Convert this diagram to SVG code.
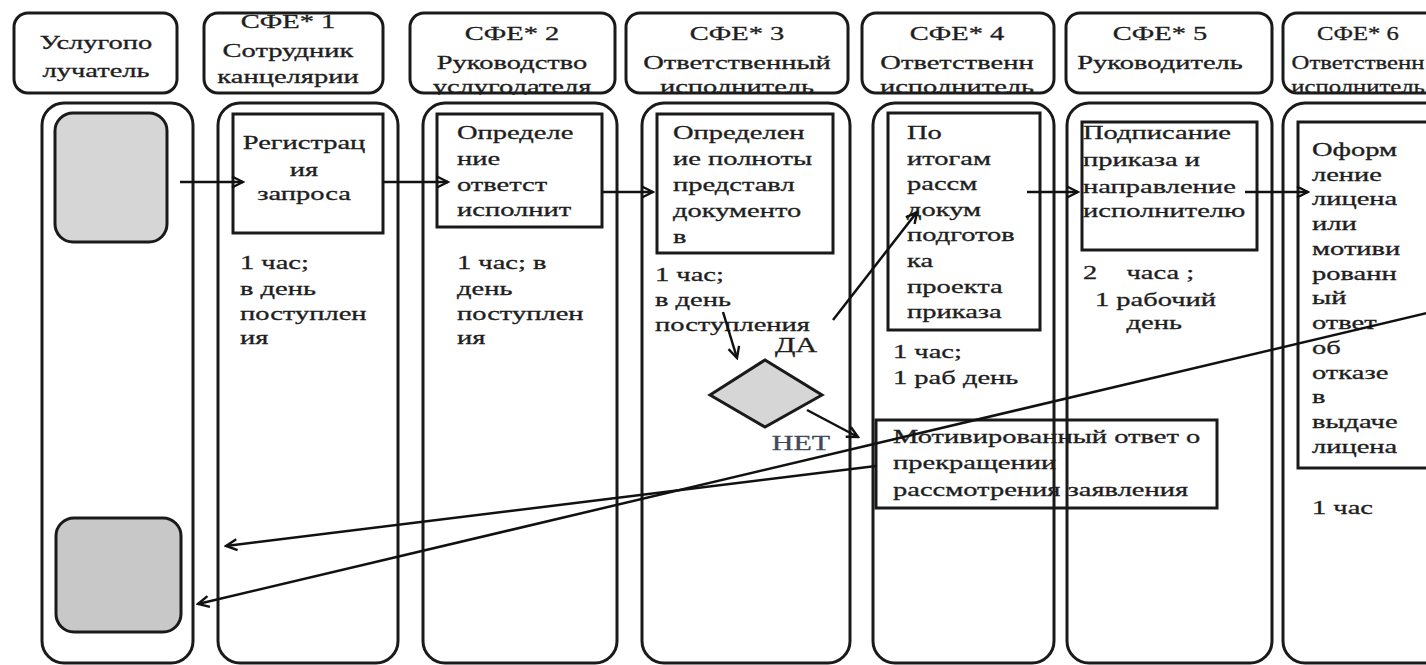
<svg xmlns="http://www.w3.org/2000/svg" width="1426" height="665" viewBox="0 0 1426 665">
<style>
.lane{fill:none;stroke:#1a1a1a;stroke-width:3}
.hdr{fill:#fff;stroke:#1a1a1a;stroke-width:3}
.box{fill:none;stroke:#1a1a1a;stroke-width:3}
.t{font-family:"Liberation Serif","DejaVu Serif",serif;font-size:19px;fill:#1e1e1e;stroke:#1e1e1e;stroke-width:0.3}
.ht{clip-path:url(#hclip)}
.c{stroke:#111;stroke-width:2.5;fill:none;marker-end:url(#ah)}
</style>
<defs>
<marker id="ah" viewBox="0 0 14 14" refX="12" refY="7" markerWidth="14" markerHeight="14" markerUnits="userSpaceOnUse" orient="auto">
<path d="M1,1.5 L12,7 L1,12.5" fill="none" stroke="#111" stroke-width="2.4"/>
</marker>
<clipPath id="hclip" clipPathUnits="userSpaceOnUse"><rect x="0" y="0" width="1426" height="95"/></clipPath>
</defs>
<rect width="1426" height="665" fill="#fff"/>

<g id="lanes">
<rect id="lane0" class="lane" x="42" y="103" width="151" height="560" rx="22"/>
<rect id="lane1" class="lane" x="218" y="103" width="180" height="560" rx="22"/>
<rect id="lane2" class="lane" x="423" y="103" width="194" height="560" rx="22"/>
<rect id="lane3" class="lane" x="642" y="103" width="208" height="560" rx="22"/>
<rect id="lane4" class="lane" x="873" y="103" width="181" height="560" rx="22"/>
<rect id="lane5" class="lane" x="1067" y="103" width="205" height="560" rx="22"/>
<rect id="lane6" class="lane" x="1283" y="103" width="220" height="560" rx="22"/>
</g>

<g id="h0"><rect class="hdr" x="14" y="13" width="163" height="80" rx="14"/>
<g class="ht"><text class="t" text-anchor="middle" transform="matrix(1.5 0 0 1 96 49)"><tspan x="0" y="0">Услугопо</tspan><tspan x="0" y="28">лучатель</tspan></text></g></g>
<g id="h1"><rect class="hdr" x="204" y="13" width="179" height="80" rx="14"/>
<g class="ht"><text class="t" text-anchor="middle" transform="matrix(1.5 0 0 1 288 28)"><tspan x="0" y="0">СФЕ* 1</tspan><tspan x="0" y="29">Сотрудник</tspan><tspan x="0" y="55">канцелярии</tspan></text></g></g>
<g id="h2"><rect class="hdr" x="410" y="13" width="205" height="80" rx="14"/>
<g class="ht"><text class="t" text-anchor="middle" transform="matrix(1.5 0 0 1 512 40)"><tspan x="0" y="0">СФЕ* 2</tspan><tspan x="0" y="29">Руководство</tspan><tspan x="0" y="53">услугодателя</tspan></text></g></g>
<g id="h3"><rect class="hdr" x="626" y="13" width="222" height="80" rx="14"/>
<g class="ht"><text class="t" text-anchor="middle" transform="matrix(1.5 0 0 1 737 40)"><tspan x="0" y="0">СФЕ* 3</tspan><tspan x="0" y="29">Ответственный</tspan><tspan x="0" y="53">исполнитель</tspan></text></g></g>
<g id="h4"><rect class="hdr" x="862" y="13" width="192" height="80" rx="14"/>
<g class="ht"><text class="t" text-anchor="middle" transform="matrix(1.5 0 0 1 957 40)"><tspan x="0" y="0">СФЕ* 4</tspan><tspan x="0" y="29">Ответственн</tspan><tspan x="0" y="53">исполнитель</tspan></text></g></g>
<g id="h5"><rect class="hdr" x="1066" y="13" width="206" height="80" rx="14"/>
<g class="ht"><text class="t" text-anchor="middle" transform="matrix(1.5 0 0 1 1160 40)"><tspan x="0" y="0">СФЕ* 5</tspan><tspan x="0" y="29">Руководитель</tspan></text></g></g>
<g id="h6"><rect class="hdr" x="1283" y="13" width="220" height="80" rx="14"/>
<g class="ht"><text class="t" text-anchor="middle" transform="matrix(1.3 0 0 1 1358 40)"><tspan x="0" y="0">СФЕ* 6</tspan><tspan x="0" y="29">Ответственн</tspan><tspan x="0" y="53">исполнитель</tspan></text></g></g>

<g id="start"><rect x="55" y="113" width="112" height="129" rx="18" fill="#d6d6d6" stroke="#1a1a1a" stroke-width="3"/></g>
<g id="end"><rect x="56" y="518" width="125" height="114" rx="18" fill="#c8c8c8" stroke="#1a1a1a" stroke-width="3"/></g>

<g id="n1"><rect class="box" x="233" y="114" width="150" height="119"/>
<text class="t" text-anchor="middle" transform="matrix(1.5 0 0 1 304 149)"><tspan x="0" y="0">Регистрац</tspan><tspan x="0" y="27">ия</tspan><tspan x="0" y="51">запроса</tspan></text>
<text class="t" transform="matrix(1.5 0 0 1 240 269)"><tspan x="0" y="0">1 час;</tspan><tspan x="0" y="26">в день</tspan><tspan x="0" y="51">поступлен</tspan><tspan x="0" y="75">ия</tspan></text></g>

<g id="n2"><rect class="box" x="437" y="114" width="165" height="113"/>
<text class="t" transform="matrix(1.5 0 0 1 457 139)"><tspan x="0" y="0">Определе</tspan><tspan x="0" y="26">ние</tspan><tspan x="0" y="52">ответст</tspan><tspan x="0" y="77">исполнит</tspan></text>
<text class="t" transform="matrix(1.5 0 0 1 457 269)"><tspan x="0" y="0">1 час; в</tspan><tspan x="0" y="26">день</tspan><tspan x="0" y="51">поступлен</tspan><tspan x="0" y="75">ия</tspan></text></g>

<g id="n3"><rect class="box" x="657" y="114" width="176" height="139"/>
<text class="t" transform="matrix(1.5 0 0 1 673 139)"><tspan x="0" y="0">Определен</tspan><tspan x="0" y="26">ие полноты</tspan><tspan x="0" y="52">представл</tspan><tspan x="0" y="78">документо</tspan><tspan x="0" y="104">в</tspan></text>
<text class="t" transform="matrix(1.5 0 0 1 655 281)"><tspan x="0" y="0">1 час;</tspan><tspan x="0" y="25">в день</tspan><tspan x="0" y="50">поступления</tspan></text></g>

<g id="decision"><polygon points="710,395 765,360 822,395 765,427" fill="#d6d6d6" stroke="#1a1a1a" stroke-width="3"/>
<text class="t" text-anchor="middle" style="font-size:20px" transform="matrix(1.5 0 0 1 796 352)">ДА</text>
<text class="t" text-anchor="middle" style="font-size:20px;fill:#3e4a5a;stroke:#3e4a5a" transform="matrix(1.5 0 0 1 801 450)">НЕТ</text></g>

<g id="n4"><rect class="box" x="888" y="113" width="152" height="217"/>
<text class="t" transform="matrix(1.5 0 0 1 907 139)"><tspan x="0" y="0">По</tspan><tspan x="0" y="25.6">итогам</tspan><tspan x="0" y="51.2">рассм</tspan><tspan x="0" y="76.8">докум</tspan><tspan x="0" y="102.4">подготов</tspan><tspan x="0" y="128">ка</tspan><tspan x="0" y="153.6">проекта</tspan><tspan x="0" y="179.2">приказа</tspan></text>
<text class="t" transform="matrix(1.5 0 0 1 893 358)"><tspan x="0" y="0">1 час;</tspan><tspan x="0" y="26">1 раб день</tspan></text></g>

<g id="n4b"><rect class="box" x="876" y="420" width="341" height="88"/>
<text class="t" transform="matrix(1.5 0 0 1 893 443)"><tspan x="0" y="0">Мотивированный ответ о</tspan><tspan x="0" y="26">прекращении</tspan><tspan x="0" y="53">рассмотрения заявления</tspan></text></g>

<g id="n5"><rect class="box" x="1082" y="122" width="175" height="128"/>
<text class="t" transform="matrix(1.5 0 0 1 1083 139)"><tspan x="0" y="0">Подписание</tspan><tspan x="0" y="27">приказа и</tspan><tspan x="0" y="54">направление</tspan><tspan x="0" y="78">исполнителю</tspan></text>
<text class="t" transform="matrix(1.5 0 0 1 1083 279)"><tspan x="0" y="0">2</tspan><tspan x="29" y="0">часа ;</tspan><tspan x="8" y="27">1 рабочий</tspan><tspan x="29" y="50">день</tspan></text></g>

<g id="n6"><rect class="box" x="1298" y="122" width="200" height="346"/>
<text class="t" transform="matrix(1.5 0 0 1 1312 156)"><tspan x="0" y="0">Оформ</tspan><tspan x="0" y="24.75">ление</tspan><tspan x="0" y="49.5">лицена</tspan><tspan x="0" y="74.25">или</tspan><tspan x="0" y="99">мотиви</tspan><tspan x="0" y="123.75">рованн</tspan><tspan x="0" y="148.5">ый</tspan><tspan x="0" y="173.25">ответ</tspan><tspan x="0" y="198">об</tspan><tspan x="0" y="222.75">отказе</tspan><tspan x="0" y="247.5">в</tspan><tspan x="0" y="272.25">выдаче</tspan><tspan x="0" y="297">лицена</tspan></text>
<text class="t" transform="matrix(1.5 0 0 1 1312 514)">1 час</text></g>

<g id="connectors">
<line class="c" x1="180" y1="182" x2="243" y2="182"/>
<line class="c" x1="383" y1="182" x2="448" y2="182"/>
<line class="c" x1="602" y1="192" x2="653" y2="192"/>
<line class="c" x1="1027" y1="192" x2="1078" y2="192"/>
<line class="c" x1="1245" y1="192" x2="1308" y2="192"/>
<line class="c" x1="723" y1="312" x2="737" y2="358"/>
<line class="c" x1="833" y1="320" x2="917" y2="212"/>
<line class="c" x1="807" y1="410" x2="858" y2="437"/>
<line class="c" x1="876" y1="466" x2="226" y2="546"/>
<line class="c" x1="1440" y1="310" x2="198" y2="604"/>
</g>
</svg>
